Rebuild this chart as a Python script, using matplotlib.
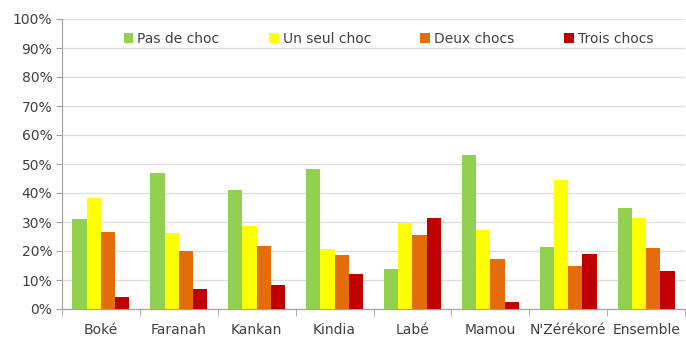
import matplotlib
matplotlib.use("Agg")
import matplotlib.pyplot as plt
import numpy as np
from matplotlib.ticker import FixedLocator, PercentFormatter

categories = ["Boké", "Faranah", "Kankan", "Kindia", "Labé", "Mamou", "N'Zérékoré", "Ensemble"]
series_names = ["Pas de choc", "Un seul choc", "Deux chocs", "Trois chocs"]
pas_de_choc = [31.2, 46.8, 41.0, 48.4, 13.7, 53.2, 21.5, 34.9]
un_seul_choc = [38.4, 26.2, 28.5, 20.7, 29.8, 27.3, 44.5, 31.4]
deux_chocs = [26.4, 20.1, 21.8, 18.7, 25.5, 17.2, 15.0, 20.9]
trois_chocs = [4.3, 6.9, 8.3, 12.1, 31.4, 2.5, 19.1, 13.1]
yticks = list(range(0, 101, 10))

colors = ["#92D050", "#FFFF00", "#E46C0A", "#C00000"]
series = [pas_de_choc, un_seul_choc, deux_chocs, trois_chocs]

plt.rcParams['font.family'] = ['DejaVu Sans']
fig = plt.figure(figsize=(6.86, 3.38), dpi=100)
ax = fig.add_axes([62/686, 29/338, 623/686, 290/338])

x = np.arange(len(categories))
w = 0.183
for i, (vals, c, name) in enumerate(zip(series, colors, series_names)):
    ax.bar(x + (i - 1.5) * w, vals, width=w, color=c, label=name, zorder=3)

ax.set_xlim(-0.5, len(categories) - 0.5)
ax.set_ylim(0, 100)
ax.set_yticks(yticks)
ax.yaxis.set_major_formatter(PercentFormatter(decimals=0))
ax.grid(axis='y', color='#DDDDDD', linewidth=1, zorder=0)
ax.set_xticks(x)
ax.set_xticklabels(categories)
ax.xaxis.set_minor_locator(FixedLocator(np.arange(-0.5, len(categories), 1)))
ax.tick_params(axis='x', which='major', length=0, pad=10, labelsize=10, labelcolor='#404040')
ax.tick_params(axis='x', which='minor', length=5, color='#A0A0A0', direction='out')
ax.tick_params(axis='y', length=4, color='#A0A0A0', labelsize=10, labelcolor='#404040', pad=3)
for s in ['top', 'right']:
    ax.spines[s].set_visible(False)
for s in ['left', 'bottom']:
    ax.spines[s].set_color('#A0A0A0')

leg = ax.legend(ncol=4, loc='upper center', bbox_to_anchor=(0.524, 0.985), frameon=False,
                fontsize=10, handlelength=0.7, handleheight=0.7, handletextpad=0.3,
                columnspacing=3.55, borderaxespad=0.2)
for t in leg.get_texts():
    t.set_color('#404040')

fig.savefig("out.png", dpi=100)
